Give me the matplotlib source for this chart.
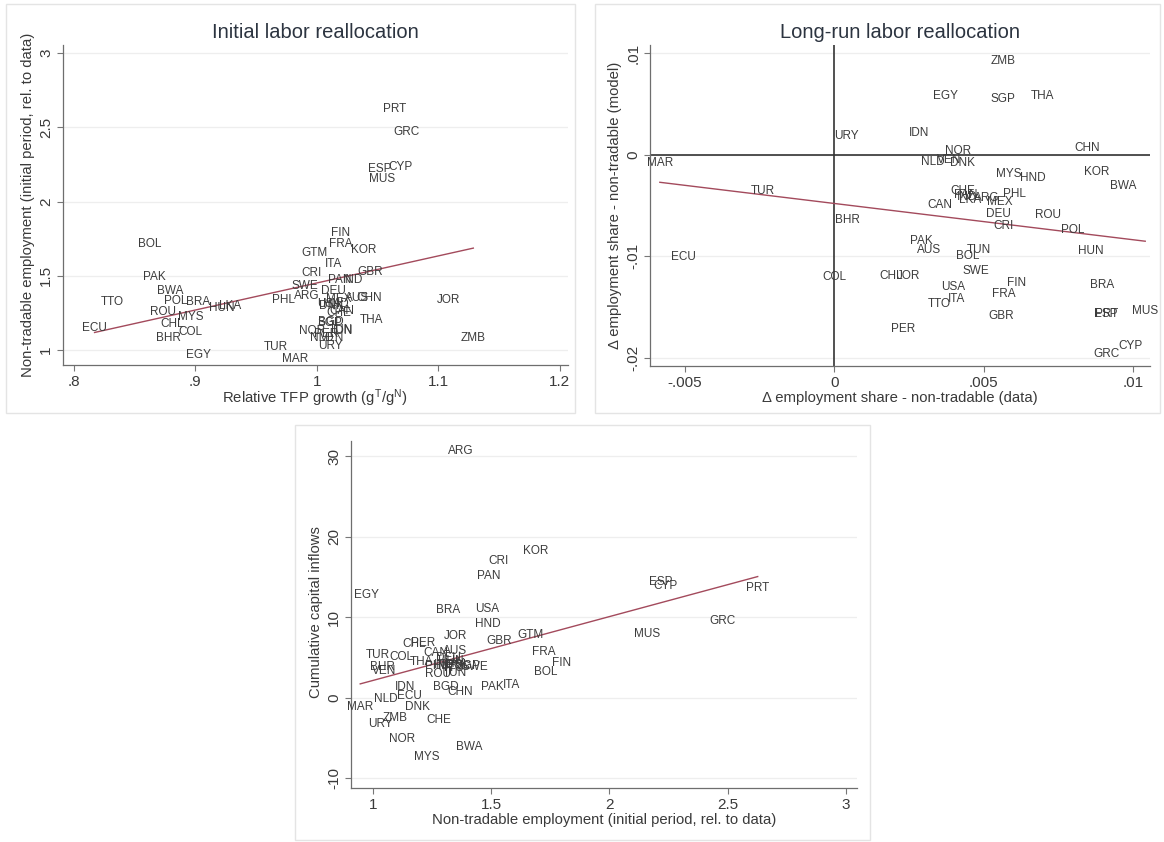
import matplotlib.pyplot as plt
from matplotlib.patches import Rectangle
import numpy as np

plt.rcParams['font.family'] = ['Liberation Sans', 'DejaVu Sans']
plt.rcParams['mathtext.default'] = 'regular'

# --- Initial labor reallocation (top left) ---
tl_codes = ['PRT', 'GRC', 'ESP', 'CYP', 'MUS', 'BOL', 'FIN', 'FRA', 'KOR', 'GTM',
            'ITA', 'CRI', 'PAK', 'GBR', 'PAN', 'IND', 'SWE', 'DEU', 'ARG', 'CHN',
            'MEX', 'AUS', 'HND', 'PHL', 'JOR', 'TTO', 'BWA', 'POL', 'BRA', 'HUN',
            'LKA', 'ROU', 'MYS', 'CHL', 'COL', 'BHR', 'ECU', 'EGY', 'TUR', 'MAR',
            'ZMB', 'THA', 'CAN', 'DNK', 'SGP', 'BGD', 'IDN', 'TUN', 'NOR', 'NLD',
            'VEN', 'URY', 'USA', 'CHE', 'PER']
tl_x = [1.064, 1.074, 1.052, 1.069, 1.054, 0.862, 1.020, 1.020, 1.039, 0.998,
        1.014, 0.996, 0.866, 1.044, 1.019, 1.030, 0.990, 1.014, 0.992, 1.043,
        1.018, 1.033, 1.016, 0.973, 1.109, 0.832, 0.879, 0.884, 0.902, 0.922,
        0.929, 0.873, 0.896, 0.881, 0.896, 0.878, 0.817, 0.903, 0.966, 0.982,
        1.129, 1.045, 1.021, 1.012, 1.011, 1.012, 1.022, 1.020, 0.996, 1.004,
        1.013, 1.011, 1.010, 1.018, 1.008]
tl_y = [2.62, 2.47, 2.218, 2.236, 2.153, 1.713, 1.787, 1.713, 1.675, 1.652,
        1.583, 1.522, 1.493, 1.529, 1.475, 1.475, 1.433, 1.395, 1.365, 1.354,
        1.345, 1.350, 1.310, 1.339, 1.339, 1.327, 1.399, 1.332, 1.321, 1.283,
        1.298, 1.260, 1.220, 1.175, 1.123, 1.085, 1.152, 0.969, 1.018, 0.939,
        1.085, 1.204, 1.265, 1.300, 1.186, 1.192, 1.130, 1.135, 1.130, 1.085,
        1.085, 1.029, 1.310, 1.250, 1.110]
tl_fit = [-0.368, 1.82]  # intercept, slope

# --- Long-run labor reallocation (top right) ---
tr_codes = ['ZMB', 'EGY', 'SGP', 'THA', 'URY', 'IDN', 'CHN', 'MAR', 'NOR', 'NLD',
            'VEN', 'DNK', 'MYS', 'HND', 'KOR', 'BWA', 'TUR', 'CHE', 'PHL', 'PAN',
            'LKA', 'ARG', 'MEX', 'IND', 'CAN', 'DEU', 'ROU', 'CRI', 'POL', 'BHR',
            'PAK', 'AUS', 'TUN', 'BOL', 'HUN', 'ECU', 'COL', 'CHL', 'JOR', 'SWE',
            'USA', 'FIN', 'BRA', 'FRA', 'ITA', 'TTO', 'GBR', 'ESP', 'PRT', 'MUS',
            'PER', 'GRC', 'CYP']
tr_x = [0.00566, 0.00373, 0.00566, 0.00698, 0.00041, 0.00285, 0.00848, -0.00584, 0.00416, 0.00329,
        0.00385, 0.00429, 0.00585, 0.00666, 0.00879, 0.00966, -0.00240, 0.00429, 0.00604, 0.00440,
        0.00454, 0.00510, 0.00554, 0.00445, 0.00354, 0.00548, 0.00716, 0.00566, 0.00798, 0.00045,
        0.00291, 0.00316, 0.00485, 0.00448, 0.00860, -0.00505, 0.00000, 0.00191, 0.00248, 0.00473,
        0.00398, 0.00610, 0.00898, 0.00566, 0.00410, 0.00350, 0.00560, 0.00910, 0.00912, 0.01041,
        0.00229, 0.00913, 0.00991]
tr_y = [0.00925, 0.00574, 0.00548, 0.00580, 0.00187, 0.00213, 0.00066, -0.00082, 0.00033, -0.00072,
        -0.00049, -0.00082, -0.00187, -0.00230, -0.00174, -0.00311, -0.00361, -0.00361, -0.00384, -0.00400,
        -0.00443, -0.00426, -0.00466, -0.00420, -0.00497, -0.00580, -0.00590, -0.00700, -0.00744, -0.00646,
        -0.00852, -0.00941, -0.00941, -0.00993, -0.00951, -0.01010, -0.01200, -0.01190, -0.01190, -0.01148,
        -0.01300, -0.01262, -0.01279, -0.01367, -0.01420, -0.01466, -0.01590, -0.01564, -0.01566, -0.01541,
        -0.01715, -0.01957, -0.01879]
tr_fit = [-0.00480, -0.357]

# --- Capital inflows (bottom) ---
bt_codes = ['ARG', 'KOR', 'CRI', 'PAN', 'EGY', 'ESP', 'CYP', 'PRT', 'BRA', 'USA',
            'HND', 'GRC', 'JOR', 'GTM', 'MUS', 'CHL', 'PER', 'GBR', 'TUR', 'COL',
            'CAN', 'AUS', 'THA', 'FRA', 'FIN', 'BOL', 'BHR', 'VEN', 'SWE', 'ROU',
            'TUN', 'IDN', 'BGD', 'CHN', 'PAK', 'ITA', 'NLD', 'ECU', 'MAR', 'DNK',
            'ZMB', 'URY', 'CHE', 'NOR', 'BWA', 'MYS', 'DEU', 'IND', 'PHL', 'HUN',
            'LKA', 'MEX', 'POL', 'SGP', 'TTO']
bt_x = [1.373, 1.687, 1.532, 1.490, 0.972, 2.217, 2.239, 2.627, 1.319, 1.485,
        1.485, 2.480, 1.348, 1.666, 2.159, 1.172, 1.214, 1.532, 1.022, 1.122,
        1.264, 1.348, 1.206, 1.724, 1.799, 1.732, 1.038, 1.047, 1.431, 1.273,
        1.348, 1.135, 1.306, 1.368, 1.503, 1.587, 1.055, 1.156, 0.946, 1.189,
        1.094, 1.030, 1.278, 1.122, 1.406, 1.226, 1.320, 1.300, 1.270, 1.330,
        1.350, 1.330, 1.360, 1.400, 1.340]
bt_y = [30.66, 18.22, 17.05, 15.10, 12.82, 14.44, 13.86, 13.61, 10.91, 11.04,
        9.20, 9.60, 7.70, 7.82, 7.98, 6.67, 6.79, 7.00, 5.35, 5.02,
        5.56, 5.84, 4.49, 5.64, 4.28, 3.25, 3.79, 3.37, 3.79, 2.96,
        3.05, 1.32, 1.32, 0.70, 1.32, 1.65, -0.12, 0.21, -1.15, -1.15,
        -2.47, -3.29, -2.80, -5.06, -6.09, -7.33, 5.00, 4.10, 4.00, 4.60,
        4.20, 3.90, 4.10, 3.90, 3.70]
bt_fit = [-5.77, 7.93]

W, H = 1164, 842
fig = plt.figure(figsize=(W / 100, H / 100), dpi=100)
txt = '#3a3a3a'
axis_fs = 10.7


def px_axes(l, t, r, b):
    return fig.add_axes([l / W, 1 - b / H, (r - l) / W, (b - t) / H])


def style(ax, xticks, xlabels, yticks, ylabels, xlim, ylim):
    ax.set_xlim(*xlim)
    ax.set_ylim(*ylim)
    ax.set_xticks(xticks)
    ax.set_xticklabels(xlabels)
    ax.set_yticks(yticks)
    ax.set_yticklabels(ylabels, rotation=90, va='center')
    for s in ['top', 'right']:
        ax.spines[s].set_visible(False)
    for s in ['left', 'bottom']:
        ax.spines[s].set_color('#6e6e6e')
        ax.spines[s].set_linewidth(0.9)
    ax.tick_params(direction='out', length=4, width=0.8, color='#777777',
                   labelsize=11, labelcolor=txt, pad=3)
    ax.yaxis.grid(True, color='#eeeeee', lw=0.9)
    ax.set_axisbelow(True)


def labels(ax, codes, xs, ys, fit):
    for c, x, y in zip(codes, xs, ys):
        ax.text(x, y, c, ha='center', va='center', fontsize=8.5, color='#3c3c3c',
                clip_on=False)
    xs = np.array(xs)
    xf = np.array([xs.min(), xs.max()])
    ax.plot(xf, fit[0] + fit[1] * xf, color='#a34a5c', lw=1.0)


def frame(l, t, r, b):
    fig.add_artist(Rectangle((l / W, 1 - b / H), (r - l) / W, (b - t) / H,
                             transform=fig.transFigure, fill=False,
                             ec='#e4e4e4', lw=1.0))


# top left
frame(6, 4, 575, 413)
ax1 = px_axes(63, 45, 568, 365)
style(ax1, [0.8, 0.9, 1.0, 1.1, 1.2], ['.8', '.9', '1', '1.1', '1.2'],
      [1, 1.5, 2, 2.5, 3], ['1', '1.5', '2', '2.5', '3'],
      (0.791, 1.207), (0.90, 3.054))
labels(ax1, tl_codes, tl_x, tl_y, tl_fit)
fig.text(315 / W, 1 - 32 / H, 'Initial labor reallocation', ha='center', va='center',
         fontsize=14.5, color='#2c3440')
fig.text(315 / W, 1 - 398 / H, 'Relative TFP growth (g$^T$/g$^N$)', ha='center',
         va='center', fontsize=axis_fs, color=txt)
fig.text(28 / W, 1 - 205 / H, 'Non-tradable employment (initial period, rel. to data)',
         ha='center', va='center', rotation=90, fontsize=axis_fs, color=txt)

# top right
frame(595, 4, 1160, 413)
ax2 = px_axes(650, 45, 1150, 366)
style(ax2, [-0.005, 0, 0.005, 0.01], ['-.005', '0', '.005', '.01'],
      [-0.02, -0.01, 0, 0.01], ['-.02', '-.01', '0', '.01'],
      (-0.00617, 0.01057), (-0.0208, 0.0108))
ax2.axhline(0, color='#333333', lw=1.2, zorder=1)
ax2.axvline(0, color='#333333', lw=1.2, zorder=1)
labels(ax2, tr_codes, tr_x, tr_y, tr_fit)
fig.text(900 / W, 1 - 32 / H, 'Long-run labor reallocation', ha='center', va='center',
         fontsize=14.5, color='#2c3440')
fig.text(900 / W, 1 - 398 / H, '\u0394 employment share - non-tradable (data)',
         ha='center', va='center', fontsize=axis_fs, color=txt)
fig.text(615 / W, 1 - 205 / H, '\u0394 employment share - non-tradable (model)',
         ha='center', va='center', rotation=90, fontsize=axis_fs, color=txt)

# bottom
frame(295, 425, 870, 840)
ax3 = px_axes(351, 441, 857, 788)
style(ax3, [1, 1.5, 2, 2.5, 3], ['1', '1.5', '2', '2.5', '3'],
      [-10, 0, 10, 20, 30], ['-10', '0', '10', '20', '30'],
      (0.907, 3.047), (-11.2, 31.9))
labels(ax3, bt_codes, bt_x, bt_y, bt_fit)
fig.text(604 / W, 1 - 820 / H, 'Non-tradable employment (initial period, rel. to data)',
         ha='center', va='center', fontsize=axis_fs, color=txt)
fig.text(316 / W, 1 - 612 / H, 'Cumulative capital inflows',
         ha='center', va='center', rotation=90, fontsize=axis_fs, color=txt)

fig.savefig('out.png', dpi=100)
